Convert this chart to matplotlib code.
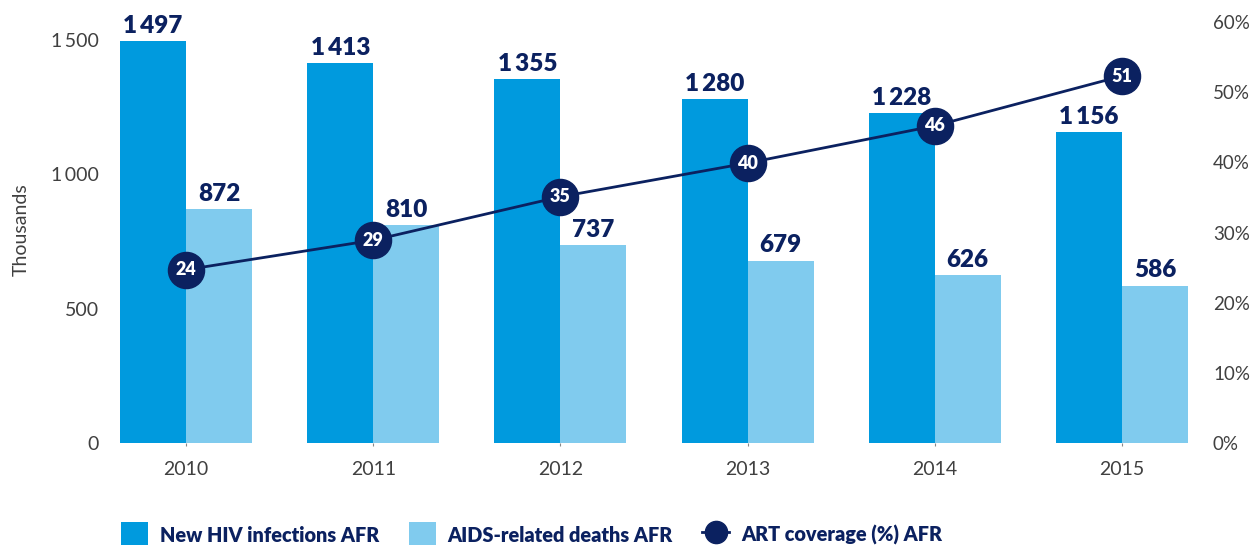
import matplotlib
matplotlib.use("Agg")
import matplotlib.pyplot as plt
import numpy as np
from matplotlib.lines import Line2D
from matplotlib.patches import Patch

years = ["2010", "2011", "2012", "2013", "2014", "2015"]
new_infections = [1497, 1413, 1355, 1280, 1228, 1156]
aids_deaths = [872, 810, 737, 679, 626, 586]
art_coverage = [24.7, 28.9, 35.1, 39.9, 45.2, 52.3]
art_labels = ["24", "29", "35", "40", "46", "51"]
left_ticks = [0, 500, 1000, 1500]
left_tick_labels = ["0", "500", "1\u2009000", "1\u2009500"]
right_ticks = [0, 10, 20, 30, 40, 50, 60]

C_DARK = "#009ADE"
C_LIGHT = "#80CBEE"
C_NAVY = "#0B2160"
C_TICK = "#404040"

plt.rcParams["font.family"] = ["Lato", "DejaVu Sans"]

fig = plt.figure(figsize=(12.5, 5.45), dpi=100)
ax = fig.add_axes([102/1250, 1-443/545, (1206-102)/1250, (443-22)/545])
ax2 = ax.twinx()

x = np.arange(len(years))
w = 0.353
ax.bar(x - w/2, new_infections, w, color=C_DARK, zorder=2)
ax.bar(x + w/2, aids_deaths, w, color=C_LIGHT, zorder=2)

def fmt(v):
    return f"{v:,}".replace(",", "\u2009")

for xi, v in zip(x, new_infections):
    ax.annotate(fmt(v), (xi - w/2, v), xytext=(0, 3), textcoords="offset points",
                ha="center", va="bottom", fontsize=17.5, fontweight="heavy", color=C_NAVY)
for xi, v in zip(x, aids_deaths):
    ax.annotate(fmt(v), (xi + w/2, v), xytext=(0, 3), textcoords="offset points",
                ha="center", va="bottom", fontsize=17.5, fontweight="heavy", color=C_NAVY)

ax.set_xlim(-0.45, 5.45)
ax.set_ylim(0, 1500*421/403)
ax2.set_ylim(0, 60)

ax2.plot(x, art_coverage, color=C_NAVY, lw=2, marker="o", markersize=26, zorder=5)
for xi, v, lab in zip(x, art_coverage, art_labels):
    ax2.text(xi, v, lab, ha="center", va="center", fontsize=13, fontweight="heavy",
             color="white", zorder=6)

ax.set_yticks(left_ticks)
ax.set_yticklabels(left_tick_labels)
ax2.set_yticks(right_ticks)
ax2.set_yticklabels([f"{t}%" for t in right_ticks])
ax.set_xticks(x)
ax.set_xticklabels(years)

for a in (ax, ax2):
    for s in a.spines.values():
        s.set_visible(False)
ax.tick_params(axis="y", length=0, pad=2, labelsize=14, labelcolor=C_TICK)
ax2.tick_params(axis="y", length=0, pad=5, labelsize=13.5, labelcolor=C_TICK)
ax.tick_params(axis="x", length=2, pad=11, labelsize=14, labelcolor=C_TICK, color="#888888")

fig.text(21/1250, 1-230/545, "Thousands", rotation=90, ha="center", va="center",
         fontsize=14, color=C_TICK)

handles = [
    Patch(facecolor=C_DARK, edgecolor="none"),
    Patch(facecolor=C_LIGHT, edgecolor="none"),
    Line2D([0], [0], color=C_NAVY, lw=2, marker="o", markersize=16),
]
labels = ["New HIV infections AFR", "AIDS-related deaths AFR", "ART coverage (%) AFR"]
leg = fig.legend(handles, labels, loc="center left", bbox_to_anchor=(113/1250, 1-535/545),
                 ncol=3, frameon=False, fontsize=14.3, handlelength=1.35, handleheight=1.6,
                 columnspacing=1.5, handletextpad=0.6, borderaxespad=0)
for t in leg.get_texts():
    t.set_color(C_NAVY)
    t.set_fontweight("heavy")

fig.savefig("out.png", dpi=100)
